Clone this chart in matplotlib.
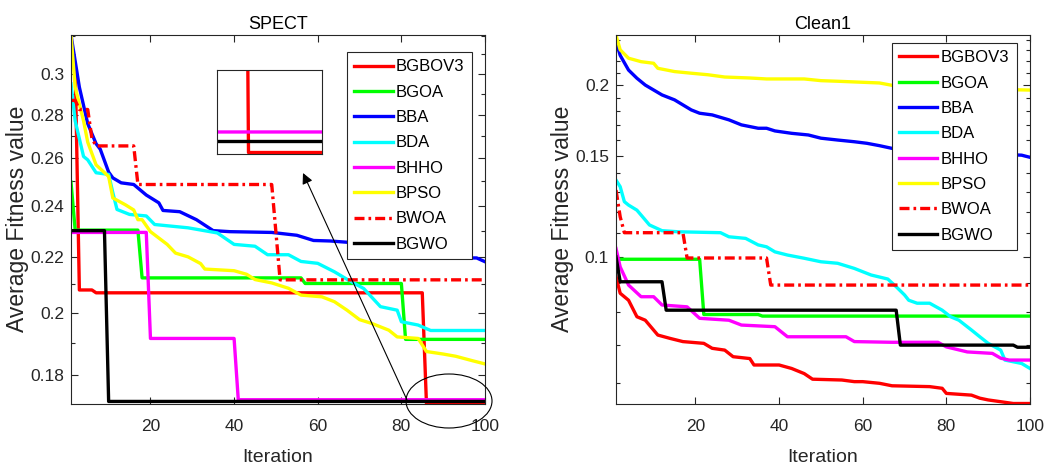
import matplotlib
matplotlib.use('Agg')
import matplotlib.pyplot as plt
from matplotlib.ticker import MultipleLocator, NullFormatter
from matplotlib.patches import Ellipse, FancyArrowPatch

plt.rcParams['font.family'] = ['Liberation Sans', 'DejaVu Sans']

names = ['BGBOV3', 'BGOA', 'BBA', 'BDA', 'BHHO', 'BPSO', 'BWOA', 'BGWO']
colors = ['#ff0000', '#00ff00', '#0000ff', '#00ffff', '#ff00ff', '#ffff00', '#ff0000', '#000000']
styles = ['-', '-', '-', '-', '-', '-', (0, (3, 1.2, 0.8, 1.2)), '-']

# ---- SPECT (left) : breakpoints ----
spect_bgbov3_x = [1, 2, 3, 6, 7, 85, 86, 100]
spect_bgbov3_y = [0.307, 0.305, 0.208, 0.208, 0.207, 0.207, 0.1716, 0.1716]
spect_bgoa_x = [1, 2, 17, 18, 56, 57, 80, 81, 100]
spect_bgoa_y = [0.2497, 0.2302, 0.2302, 0.2123, 0.2123, 0.2103, 0.2103, 0.1913, 0.1913]
spect_bba_x = [1, 3, 5, 7, 8, 10, 11, 13, 16, 19, 22, 23, 27, 31, 35, 39, 49, 55, 59, 63, 68, 79, 87, 98, 100]
spect_bba_y = [0.3204, 0.2933, 0.2757, 0.2665, 0.2640, 0.2540, 0.2515, 0.2494, 0.2487, 0.2443, 0.2411,
               0.2380, 0.2375, 0.2343, 0.2300, 0.2296, 0.2293, 0.2282, 0.2262, 0.2260, 0.2254, 0.2210,
               0.2196, 0.2196, 0.2182]
spect_bda_x = [1, 2, 4, 5, 7, 10, 11, 12, 15, 19, 21, 29, 36, 40, 45, 48, 53, 56, 60, 64, 67, 71, 75, 79,
               80, 84, 87, 100]
spect_bda_y = [0.295, 0.2770, 0.2608, 0.2593, 0.2537, 0.2530, 0.2453, 0.2384, 0.2364, 0.2358, 0.2324,
               0.2311, 0.2291, 0.2247, 0.2240, 0.2208, 0.2208, 0.2183, 0.2176, 0.2145, 0.2118, 0.2085,
               0.2022, 0.2010, 0.1971, 0.1960, 0.1942, 0.1942]
spect_bhho_x = [1, 19, 20, 40, 41, 100]
spect_bhho_y = [0.2293, 0.2293, 0.1916, 0.1916, 0.1727, 0.1727]
spect_bpso_x = [1, 2, 4, 5, 7, 10, 11, 14, 16, 17, 18, 20, 24, 26, 29, 32, 33, 40, 43, 45, 49, 53, 56,
                61, 64, 67, 70, 73, 77, 79, 84, 86, 90, 93, 97, 100]
spect_bpso_y = [0.3204, 0.2933, 0.2770, 0.2672, 0.2571, 0.2521, 0.2431, 0.2403, 0.2382, 0.2343, 0.2343,
                0.2296, 0.2247, 0.2214, 0.2200, 0.2175, 0.2155, 0.2149, 0.2136, 0.2117, 0.2105, 0.2086,
                0.2062, 0.2056, 0.2039, 0.2010, 0.1978, 0.1965, 0.1943, 0.1921, 0.1916, 0.1874, 0.1866,
                0.1859, 0.1845, 0.1835]
spect_bwoa_x = [1, 2, 3, 5, 6, 7, 16, 17, 49, 51, 100]
spect_bwoa_y = [0.2868, 0.2868, 0.2824, 0.2824, 0.2689, 0.2655, 0.2655, 0.2487, 0.2487, 0.2116, 0.2116]
spect_bgwo_x = [1, 9, 10, 100]
spect_bgwo_y = [0.2300, 0.2300, 0.1722, 0.1722]

# ---- Clean1 (right) ----
clean_bgbov3_x = [1, 2, 4, 6, 8, 11, 14, 17, 22, 24, 27, 29, 33, 34, 40, 43, 46, 48, 55, 58, 60, 64, 67,
                  76, 79, 80, 86, 88, 90, 93, 96, 100]
clean_bgbov3_y = [0.0923, 0.0863, 0.0839, 0.0785, 0.0774, 0.0729, 0.0719, 0.0710, 0.0705, 0.0691, 0.0686,
                  0.0668, 0.0663, 0.0646, 0.0646, 0.0637, 0.0624, 0.0610, 0.0608, 0.0604, 0.0604, 0.0600,
                  0.0594, 0.0592, 0.0588, 0.0576, 0.0572, 0.0565, 0.0561, 0.0557, 0.0553, 0.0553]
clean_bgoa_x = [1, 21, 22, 35, 36, 100]
clean_bgoa_y = [0.0990, 0.0990, 0.0792, 0.0792, 0.0787, 0.0787]
clean_bba_x = [1, 2, 4, 6, 8, 12, 15, 19, 21, 24, 28, 31, 35, 37, 39, 43, 47, 50, 54, 58, 61, 64, 67, 80,
               90, 98, 100]
clean_bba_y = [0.2385, 0.2255, 0.2125, 0.2056, 0.2000, 0.1922, 0.1884, 0.1809, 0.1785, 0.1773, 0.1738,
               0.1703, 0.1680, 0.1680, 0.1662, 0.1646, 0.1635, 0.1614, 0.1602, 0.1591, 0.1581, 0.1566,
               0.1549, 0.1530, 0.1515, 0.1507, 0.1494]
clean_bda_x = [1, 2, 3, 4, 6, 8, 9, 12, 16, 26, 28, 32, 35, 37, 39, 42, 46, 50, 54, 58, 62, 66, 68, 70,
               71, 73, 76, 79, 81, 83, 86, 88, 90, 93, 94, 98, 100]
clean_bda_y = [0.1363, 0.1327, 0.1249, 0.1232, 0.1207, 0.1160, 0.1137, 0.1111, 0.1106, 0.1102, 0.1084,
               0.1077, 0.1049, 0.1041, 0.1020, 0.1007, 0.0994, 0.0980, 0.0974, 0.0954, 0.0929, 0.0914,
               0.0886, 0.0857, 0.0839, 0.0829, 0.0829, 0.0806, 0.0785, 0.0774, 0.0744, 0.0724, 0.0705,
               0.0686, 0.0659, 0.0650, 0.0637]
clean_bhho_x = [1, 2, 4, 7, 10, 12, 18, 21, 28, 31, 39, 42, 56, 58, 67, 78, 80, 85, 91, 93, 95, 100]
clean_bhho_y = [0.1034, 0.0960, 0.0892, 0.0851, 0.0851, 0.0823, 0.0817, 0.0780, 0.0774, 0.0759, 0.0754,
                0.0724, 0.0724, 0.0710, 0.0708, 0.0708, 0.0695, 0.0681, 0.0677, 0.0664, 0.0659, 0.0659]
clean_bpso_x = [1, 2, 4, 7, 10, 11, 15, 19, 23, 27, 33, 37, 46, 50, 54, 64, 67, 69, 85, 100]
clean_bpso_y = [0.2448, 0.2306, 0.2229, 0.2198, 0.2184, 0.2140, 0.2112, 0.2098, 0.2085, 0.2066, 0.2058,
                0.2050, 0.2050, 0.2036, 0.2031, 0.2017, 0.1998, 0.1987, 0.1970, 0.1960]
clean_bwoa_x = [1, 2, 3, 17, 18, 37, 38, 100]
clean_bwoa_y = [0.1309, 0.1175, 0.1102, 0.1102, 0.0995, 0.0995, 0.0892, 0.0892]
clean_bgwo_x = [1, 2, 12, 13, 68, 69, 96, 97, 100]
clean_bgwo_y = [0.1000, 0.0904, 0.0904, 0.0806, 0.0806, 0.0700, 0.0700, 0.0694, 0.0694]

spect = [(spect_bgbov3_x, spect_bgbov3_y), (spect_bgoa_x, spect_bgoa_y), (spect_bba_x, spect_bba_y),
         (spect_bda_x, spect_bda_y), (spect_bhho_x, spect_bhho_y), (spect_bpso_x, spect_bpso_y),
         (spect_bwoa_x, spect_bwoa_y), (spect_bgwo_x, spect_bgwo_y)]
clean = [(clean_bgbov3_x, clean_bgbov3_y), (clean_bgoa_x, clean_bgoa_y), (clean_bba_x, clean_bba_y),
         (clean_bda_x, clean_bda_y), (clean_bhho_x, clean_bhho_y), (clean_bpso_x, clean_bpso_y),
         (clean_bwoa_x, clean_bwoa_y), (clean_bgwo_x, clean_bgwo_y)]

spect_yticks = [0.18, 0.2, 0.22, 0.24, 0.26, 0.28, 0.3]
spect_ylabels = ['0.18', '0.2', '0.22', '0.24', '0.26', '0.28', '0.3']
clean_yticks = [0.1, 0.15, 0.2]
clean_ylabels = ['0.1', '0.15', '0.2']
xticks = [20, 40, 60, 80, 100]

axcol = '#262626'
W, H = 1047, 472
fig = plt.figure(figsize=(W / 100, H / 100), dpi=100)


def draw(ax, series, title, ylim, yticks, ylabels, leg_anchor):
    lines = []
    for (x, y), c, ls, n in zip(series, colors, styles, names):
        ln, = ax.plot(x, y, color=c, linestyle=ls, linewidth=2.4, label=n)
        lines.append(ln)
    ax.set_yscale('log')
    ax.set_xlim(1, 100)
    ax.set_ylim(*ylim)
    ax.set_xticks(xticks)
    ax.set_yticks(yticks, ylabels)
    ax.yaxis.set_minor_locator(MultipleLocator(0.01))
    ax.yaxis.set_minor_formatter(NullFormatter())
    ax.tick_params(which='both', direction='in', top=True, right=True, colors=axcol,
                   labelsize=12.5, labelcolor=axcol)
    ax.tick_params(which='major', length=5, width=0.8)
    ax.tick_params(which='minor', length=3, width=0.8)
    ax.tick_params(axis='x', pad=11)
    ax.tick_params(axis='y', pad=5)
    for s in ax.spines.values():
        s.set_color(axcol)
        s.set_linewidth(0.8)
    ax.set_title(title, fontsize=13, color='black', pad=4)
    ax.set_xlabel('Iteration', fontsize=14, color=axcol, labelpad=11)
    ax.set_ylabel('Average Fitness value', fontsize=16.5, color=axcol, labelpad=1)
    leg = ax.legend(handles=lines, loc='upper right', bbox_to_anchor=leg_anchor, borderaxespad=0,
                    fontsize=12, handlelength=2.3, handletextpad=0.2, labelspacing=0.62,
                    borderpad=0.45, fancybox=False, framealpha=1, edgecolor=axcol)
    leg.get_frame().set_linewidth(0.8)
    return lines


ax1 = fig.add_axes([71 / W, 1 - 403.5 / H, 414 / W, 368.5 / H])
draw(ax1, spect, 'SPECT', (0.1716, 0.3204), spect_yticks, spect_ylabels, (0.9686, 0.954))

ax2 = fig.add_axes([616 / W, 1 - 403.5 / H, 414 / W, 368.5 / H])
draw(ax2, clean, 'Clean1', (0.0553, 0.2448), clean_yticks, clean_ylabels, (0.968, 0.979))

# zoomed inset of the SPECT tail
axin = fig.add_axes([217 / W, 1 - 154 / H, 105 / W, 84 / H])
for (x, y), c, ls in zip(spect, colors, styles):
    axin.plot(x, y, color=c, linestyle=ls, linewidth=2.4)
axin.set_xlim(80, 100)
axin.set_ylim(0.17152, 0.17602)
axin.set_xticks([])
axin.set_yticks([])
for s in axin.spines.values():
    s.set_color(axcol)
    s.set_linewidth(0.8)

# ellipse and arrow pointing at the inset
fig.add_artist(Ellipse((449 / W, 1 - 401 / H), 86 / W, 54 / H, transform=fig.transFigure,
                       fill=False, edgecolor='black', linewidth=0.8))
fig.add_artist(FancyArrowPatch((407 / W, 1 - 400 / H), (303 / W, 1 - 173 / H),
                               transform=fig.transFigure, arrowstyle='-|>', mutation_scale=16,
                               color='black', linewidth=0.8, shrinkA=0, shrinkB=0))

fig.savefig('out.png', dpi=100)
